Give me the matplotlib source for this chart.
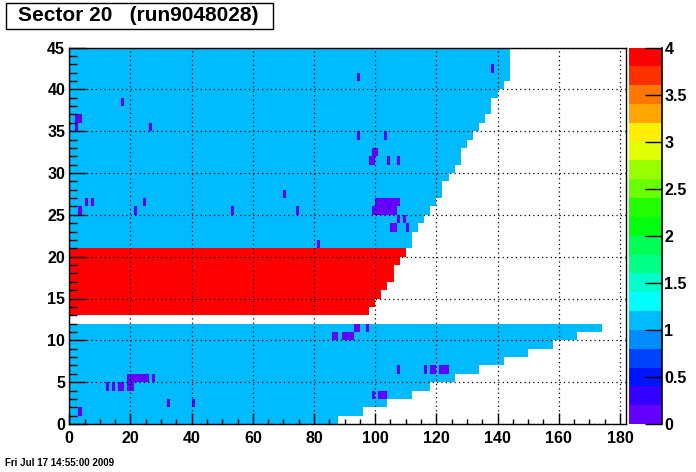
import numpy as np
import matplotlib
matplotlib.use("Agg")
import matplotlib.pyplot as plt
from matplotlib import font_manager
from matplotlib.colors import ListedColormap, BoundaryNorm
from matplotlib.patches import Rectangle
from matplotlib.ticker import MultipleLocator, FormatStrFormatter
import colorsys

# ---------------- data ----------------
title = "Sector 20   (run9048028)"
date_text = "Fri Jul 17 14:55:00 2009"

# number of pads in each padrow (row index 0..44)
pads_per_row = [88, 96, 104, 112, 118, 126, 134, 142, 150, 158, 166, 174, 182,
                98, 100, 102, 104, 106, 106, 108, 110, 112, 112, 114, 116, 118,
                120, 122, 122, 124, 126, 128, 128, 130, 132, 134, 136, 138, 138,
                140, 142, 144, 144, 144, 144]
# content of the pads of each row (0 = empty row)
row_value = [1, 1, 1, 1, 1, 1, 1, 1, 1, 1, 1, 1, 0,
             4, 4, 4, 4, 4, 4, 4, 4,
             1, 1, 1, 1, 1, 1, 1, 1, 1, 1, 1, 1, 1, 1, 1, 1, 1, 1, 1, 1, 1, 1, 1, 1]
# low-content pads (row, pad)
low_rows = [1, 2, 2, 3, 3, 3, 3,
            4, 4, 4, 4, 4, 4,
            5, 5, 5, 5, 5, 5, 5, 5,
            6, 6, 6, 6, 6, 6, 6,
            10, 10, 10, 10, 10, 10,
            11, 11, 11,
            21, 23, 23, 23, 24, 24,
            25, 25, 25, 25, 25, 25, 25, 25, 25, 25, 25, 25,
            26, 26, 26, 26, 26, 26, 26, 26, 26, 26, 26,
            27, 31, 31, 31, 31, 32, 32,
            34, 34, 35, 35, 36, 36, 38, 41, 42]
low_pads = [3, 32, 40, 99, 101, 102, 103,
            12, 14, 16, 17, 19, 20,
            19, 20, 21, 22, 23, 24, 25, 27,
            107, 116, 118, 119, 121, 122, 123,
            86, 87, 89, 90, 91, 92,
            93, 94, 97,
            81, 105, 106, 110, 107, 109,
            3, 21, 53, 74, 99, 100, 101, 102, 103, 104, 105, 106,
            5, 7, 24, 100, 101, 102, 103, 104, 105, 106, 107,
            70, 98, 99, 104, 107, 99, 100,
            94, 103, 2, 26, 2, 3, 17, 94, 138]
low_value = 0.1

x_max, y_max = 182, 45
z_min, z_max, n_levels = 0.0, 4.0, 20

# ---------------- build histogram ----------------
grid = np.full((y_max, x_max), np.nan)
for r, (n, v) in enumerate(zip(pads_per_row, row_value)):
    if v > 0:
        grid[r, :n] = v
for r, p in zip(low_rows, low_pads):
    grid[r, p] = low_value
grid = np.ma.masked_invalid(grid)

# ROOT "pretty" palette (gStyle->SetPalette(1)), 20 contours
pal = []
for i in range(50):
    hue = 280 - (i + 1) * (280.0 / 50)
    pal.append(colorsys.hls_to_rgb(hue / 360.0, 0.5, 1.0))
cols = [pal[int((i + 0.99) * 50 / n_levels)] for i in range(n_levels)]
cmap = ListedColormap(cols)
levels = np.linspace(z_min, z_max, n_levels + 1)
norm = BoundaryNorm(levels, cmap.N)

# ---------------- fonts ----------------
names = {f.name for f in font_manager.fontManager.ttflist}
main_font = "Liberation Sans" if "Liberation Sans" in names else "DejaVu Sans"
narrow_font = "Liberation Sans Narrow" if "Liberation Sans Narrow" in names else main_font
label_size = 11.5

W, H = 696, 472
fig = plt.figure(figsize=(W / 100, H / 100), dpi=100)

ax_l, ax_r, ax_t, ax_b = 69.3, 626.0, 47.5, 424.0
ax = fig.add_axes([ax_l / W, 1 - ax_b / H, (ax_r - ax_l) / W, (ax_b - ax_t) / H])
mesh = ax.pcolormesh(np.arange(x_max + 1), np.arange(y_max + 1), grid,
                     cmap=cmap, norm=norm, zorder=1)
ax.set_xlim(0, x_max)
ax.set_ylim(0, y_max)
ax.set_axisbelow(False)
ax.xaxis.set_major_locator(MultipleLocator(20))
ax.xaxis.set_minor_locator(MultipleLocator(5))
ax.yaxis.set_major_locator(MultipleLocator(5))
ax.yaxis.set_minor_locator(MultipleLocator(1))
ax.grid(True, which="major", color="black", linestyle=(0, (1, 2.5)), linewidth=0.9)
ax.tick_params(which="both", direction="in", top=False, right=False, width=1.0, color="black")
ax.tick_params(axis="x", which="major", length=8, pad=5)
ax.tick_params(axis="x", which="minor", length=3.5)
ax.tick_params(axis="y", which="major", length=12.5, pad=3)
ax.tick_params(axis="y", which="minor", length=6)
for lab in ax.get_xticklabels() + ax.get_yticklabels():
    lab.set_fontfamily(main_font)
    lab.set_fontweight("bold")
    lab.set_fontsize(label_size)
for s in ax.spines.values():
    s.set_linewidth(1.0)

# ---------------- palette axis ----------------
cb_l, cb_r = 629.0, 661.5
cax = fig.add_axes([cb_l / W, 1 - ax_b / H, (cb_r - cb_l) / W, (ax_b - ax_t) / H])
cbar = fig.colorbar(mesh, cax=cax, ticks=np.arange(z_min, z_max + 0.01, 0.5))
cbar.outline.set_visible(False)
cax.yaxis.set_major_formatter(FormatStrFormatter("%g"))
cax.minorticks_off()
cax.tick_params(axis="y", direction="in", length=12, width=1.0, pad=2, right=True, left=False)
cax.plot([1, 1], [0, 1], transform=cax.transAxes, color="black", lw=1.2, clip_on=False)
for lab in cax.get_yticklabels():
    lab.set_fontfamily(main_font)
    lab.set_fontweight("bold")
    lab.set_fontsize(label_size)

# ---------------- title box ----------------
fig.patches.append(Rectangle((6 / W, 1 - 28.5 / H), (273 - 6) / W, (28.5 - 2.5) / H,
                             transform=fig.transFigure, facecolor="white",
                             edgecolor="black", linewidth=1.0))
fig.text(18 / W, 1 - 15.5 / H, title, fontsize=15, fontweight="bold",
         fontfamily=main_font, ha="left", va="center")

fig.text(5 / W, 1 - 462.5 / H, date_text, fontsize=7, fontweight="bold",
         fontfamily=narrow_font, ha="left", va="center")

fig.savefig("out.png", dpi=100, facecolor="white")
